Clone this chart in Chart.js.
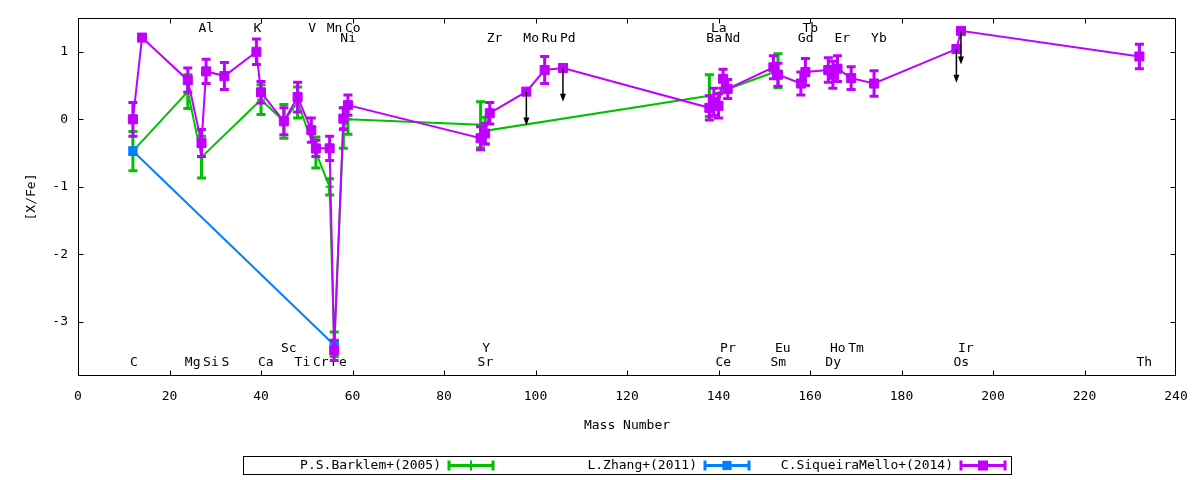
<!DOCTYPE html>
<html>
<head>
<meta charset="utf-8">
<script src="https://cdn.jsdelivr.net/npm/chart.js@4.4.1/dist/chart.umd.min.js"></script>
<style>
  html, body { margin: 0; padding: 0; background: #fff; }
  #wrap { width: 1200px; height: 480px; }
</style>
</head>
<body>
<div id="wrap"><canvas id="abund" width="1200" height="480"></canvas></div>
<script>
// P.S.Barklem+(2005)
const barklemMass = [12, 24, 27, 40, 45, 48, 52, 55, 56, 58, 59, 88, 89, 138, 153];
const barklemVal  = [-0.47, 0.41, -0.56, 0.29, -0.03, 0.25, -0.49, -1.0, -3.33, -0.13, 0.0, -0.08, -0.17, 0.35, 0.72];
const barklemErr  = [0.29, 0.25, 0.31, 0.22, 0.25, 0.23, 0.23, 0.12, 0.18, 0.30, 0.22, 0.34, 0.20, 0.31, 0.25];

// L.Zhang+(2011)
const zhangMass = [12, 56];
const zhangVal  = [-0.47, -3.34];
const zhangErr  = [0.05, 0.05];

// C.SiqueiraMello+(2014); limit = 1 marks an upper limit
const melloMass  = [12, 14, 24, 27, 28, 32, 39, 40, 45, 48, 51, 52, 55, 56, 58, 59,
                    88, 89, 90, 98, 102, 106, 138, 139, 140, 141, 142, 152, 153,
                    158, 159, 164, 165, 166, 169, 174, 192, 193, 232];
const melloVal   = [0.0, 1.21, 0.58, -0.35, 0.71, 0.64, 1.0, 0.40, -0.03, 0.33, -0.16, -0.43, -0.43, -3.42, 0.01, 0.21,
                    -0.28, -0.21, 0.09, 0.41, 0.73, 0.76, 0.17, 0.26, 0.20, 0.60, 0.45, 0.77, 0.66,
                    0.53, 0.70, 0.73, 0.66, 0.75, 0.61, 0.53, 1.04, 1.31, 0.93];
const melloErr   = [0.25, 0, 0.18, 0.20, 0.18, 0.20, 0.19, 0.16, 0.20, 0.22, 0.18, 0.12, 0.18, 0.15, 0.16, 0.15,
                    0.17, 0.15, 0.16, 0, 0.20, 0, 0.18, 0.20, 0.18, 0.14, 0.14, 0.17, 0.17,
                    0.17, 0.20, 0.18, 0.20, 0.19, 0.17, 0.19, 0, 0, 0.18];
const melloLimit = [0, 0, 0, 0, 0, 0, 0, 0, 0, 0, 0, 0, 0, 0, 0, 0,
                    0, 0, 0, 1, 0, 1, 0, 0, 0, 0, 0, 0, 0,
                    0, 0, 0, 0, 0, 0, 0, 1, 1, 0];
const limitDrop = 0.5;

// element names along the top and bottom of the plot
const elemNames = ['Al', 'K', 'V', 'Mn', 'Co', 'La', 'Tb',
                   'N', 'Ni', 'Zr', 'Mo', 'Ru', 'Pd', 'Ba', 'Nd', 'Gd', 'Er', 'Yb',
                   'Sc', 'Y', 'Pr', 'Eu', 'Ho', 'Tm', 'Ir',
                   'C', 'Mg', 'Si', 'S', 'Ca', 'Ti', 'Cr', 'Fe', 'Sr', 'Ce', 'Sm', 'Dy', 'Os', 'Th'];
const elemMass  = [27, 39, 51, 55, 59, 139, 159,
                   14, 58, 90, 98, 102, 106, 138, 142, 158, 166, 174,
                   45, 89, 141, 153, 165, 169, 193,
                   12, 24, 28, 32, 40, 48, 52, 56, 88, 140, 152, 164, 192, 232];
const elemRow   = [0, 0, 0, 0, 0, 0, 0,
                   1, 1, 1, 1, 1, 1, 1, 1, 1, 1, 1,
                   2, 2, 2, 2, 2, 2, 2,
                   3, 3, 3, 3, 3, 3, 3, 3, 3, 3, 3, 3, 3, 3];

const xTicks = [0, 20, 40, 60, 80, 100, 120, 140, 160, 180, 200, 220, 240];
const yTicks = [-3, -2, -1, 0, 1];

const FONT = { family: 'DejaVu Sans Mono', size: 13 };
const CSS_FONT = '13px "DejaVu Sans Mono"';
const rowLevel = [1.35, 1.2, -3.4, -3.6];

const pts = (xs, ys) => xs.map((x, i) => ({ x: x, y: ys[i] }));

const gnuplotBits = {
  id: 'gnuplotBits',
  beforeDatasetsDraw(chart) {
    const { ctx, scales: { x, y } } = chart;
    ctx.save();
    ctx.font = CSS_FONT;
    ctx.fillStyle = '#000';
    ctx.textAlign = 'left';
    ctx.textBaseline = 'middle';
    elemNames.forEach((n, i) => {
      ctx.fillText(n, x.getPixelForValue(elemMass[i]) - 3, y.getPixelForValue(rowLevel[elemRow[i]]));
    });
    ctx.restore();
  },
  afterDatasetDraw(chart, args) {
    const ds = chart.data.datasets[args.index];
    const { ctx, scales: { x, y } } = chart;
    ctx.save();
    ctx.strokeStyle = ds.borderColor;
    ctx.lineWidth = 3;
    ds.data.forEach((p, k) => {
      const e = ds.errors[k];
      if (!e) return;
      const px = x.getPixelForValue(p.x);
      const y1 = y.getPixelForValue(p.y + e);
      const y2 = y.getPixelForValue(p.y - e);
      ctx.beginPath();
      ctx.moveTo(px, y1); ctx.lineTo(px, y2);
      ctx.moveTo(px - 4.5, y1); ctx.lineTo(px + 4.5, y1);
      ctx.moveTo(px - 4.5, y2); ctx.lineTo(px + 4.5, y2);
      ctx.stroke();
    });
    if (ds.limits) {
      ctx.strokeStyle = '#000';
      ctx.fillStyle = '#000';
      ctx.lineWidth = 1.5;
      ds.data.forEach((p, k) => {
        if (!ds.limits[k]) return;
        const px = x.getPixelForValue(p.x);
        const y1 = y.getPixelForValue(p.y);
        const y2 = y.getPixelForValue(p.y - limitDrop);
        ctx.beginPath();
        ctx.moveTo(px, y1); ctx.lineTo(px, y2 - 4);
        ctx.stroke();
        ctx.beginPath();
        ctx.moveTo(px, y2);
        ctx.lineTo(px - 3, y2 - 8);
        ctx.lineTo(px + 3, y2 - 8);
        ctx.closePath();
        ctx.fill();
      });
    }
    ctx.restore();
  },
  afterDraw(chart) {
    const { ctx, chartArea: a, scales: { x, y } } = chart;
    ctx.save();
    ctx.strokeStyle = '#000';
    ctx.lineWidth = 1;
    const L = Math.round(a.left) + 0.5, R = Math.round(a.right) - 0.5;
    const T = Math.round(a.top) + 0.5, B = Math.round(a.bottom) - 0.5;
    ctx.strokeRect(L, T, R - L, B - T);
    ctx.beginPath();
    xTicks.forEach(v => {
      const px = Math.min(R, Math.max(L, Math.round(x.getPixelForValue(v)) + 0.5));
      ctx.moveTo(px, B); ctx.lineTo(px, B - 5);
      ctx.moveTo(px, T); ctx.lineTo(px, T + 5);
    });
    yTicks.forEach(v => {
      const py = Math.round(y.getPixelForValue(v)) + 0.5;
      ctx.moveTo(L, py); ctx.lineTo(L + 5, py);
      ctx.moveTo(R, py); ctx.lineTo(R - 5, py);
    });
    ctx.stroke();

    // key box at the bottom, gnuplot style: title then sample
    const boxL = 243, boxT = 456, colW = 256, boxH = 18;
    ctx.strokeRect(boxL + 0.5, boxT + 0.5, colW * 3, boxH);
    ctx.font = CSS_FONT;
    ctx.textAlign = 'right';
    ctx.textBaseline = 'middle';
    const cy = boxT + boxH / 2 + 0.5;
    chart.data.datasets.forEach((ds, i) => {
      const c0 = boxL + i * colW;
      ctx.fillStyle = '#000';
      ctx.fillText(ds.label, c0 + 198, cy);
      const s0 = c0 + 206, s1 = c0 + 250, sm = (s0 + s1) / 2;
      ctx.strokeStyle = ds.borderColor;
      ctx.fillStyle = ds.borderColor;
      ctx.lineWidth = 3;
      ctx.beginPath();
      ctx.moveTo(s0, cy); ctx.lineTo(s1, cy);
      ctx.moveTo(s0, cy - 5); ctx.lineTo(s0, cy + 5);
      ctx.moveTo(s1, cy - 5); ctx.lineTo(s1, cy + 5);
      ctx.stroke();
      if (ds.pointStyle === 'cross') {
        ctx.lineWidth = 2;
        ctx.beginPath();
        ctx.moveTo(sm, cy - 5); ctx.lineTo(sm, cy + 5);
        ctx.stroke();
      } else {
        const h = ds.pointRadius * Math.SQRT1_2 + 0.5;
        ctx.fillRect(sm - h, cy - h, 2 * h, 2 * h);
      }
    });
    ctx.restore();
  }
};

new Chart(document.getElementById('abund'), {
  type: 'scatter',
  data: {
    datasets: [
      {
        label: 'P.S.Barklem+(2005)',
        data: pts(barklemMass, barklemVal),
        errors: barklemErr,
        borderColor: '#00c000',
        backgroundColor: '#00c000',
        showLine: true,
        borderWidth: 2,
        pointStyle: 'cross',
        pointRadius: 4,
        pointBorderWidth: 2,
        order: 3
      },
      {
        label: 'L.Zhang+(2011)',
        data: pts(zhangMass, zhangVal),
        errors: zhangErr,
        borderColor: '#0080ff',
        backgroundColor: '#0080ff',
        showLine: true,
        borderWidth: 2,
        pointStyle: 'rect',
        pointRadius: 5.8,
        pointBorderWidth: 1,
        order: 2
      },
      {
        label: 'C.SiqueiraMello+(2014)',
        data: pts(melloMass, melloVal),
        errors: melloErr,
        limits: melloLimit,
        borderColor: '#c000ff',
        backgroundColor: '#c000ff',
        showLine: true,
        borderWidth: 2,
        pointStyle: 'rect',
        pointRadius: 6.4,
        pointBorderWidth: 1,
        order: 1
      }
    ]
  },
  options: {
    responsive: false,
    animation: false,
    events: [],
    layout: { padding: { left: 0, right: 24, top: 18, bottom: 0 } },
    plugins: {
      legend: { display: false },
      tooltip: { enabled: false }
    },
    scales: {
      x: {
        type: 'linear',
        min: 0,
        max: 240,
        afterBuildTicks: s => { s.ticks = xTicks.map(v => ({ value: v })); },
        afterFit: s => { s.height = 104; },
        grid: { display: false },
        border: { display: false },
        ticks: { color: '#000', font: FONT, padding: 5, maxRotation: 0, autoSkip: false },
        title: { display: true, text: 'Mass Number', color: '#000', font: FONT, padding: { top: 0, bottom: 47 } }
      },
      y: {
        type: 'linear',
        min: -3.8,
        max: 1.5,
        afterBuildTicks: s => { s.ticks = yTicks.map(v => ({ value: v })); },
        afterFit: s => { s.width = 78; },
        grid: { display: false },
        border: { display: false },
        ticks: { color: '#000', font: FONT, padding: 2, autoSkip: false },
        title: { display: true, text: '[X/Fe]', color: '#000', font: FONT, padding: { top: 24, bottom: 0 } }
      }
    }
  },
  plugins: [gnuplotBits]
});
</script>
</body>
</html>
